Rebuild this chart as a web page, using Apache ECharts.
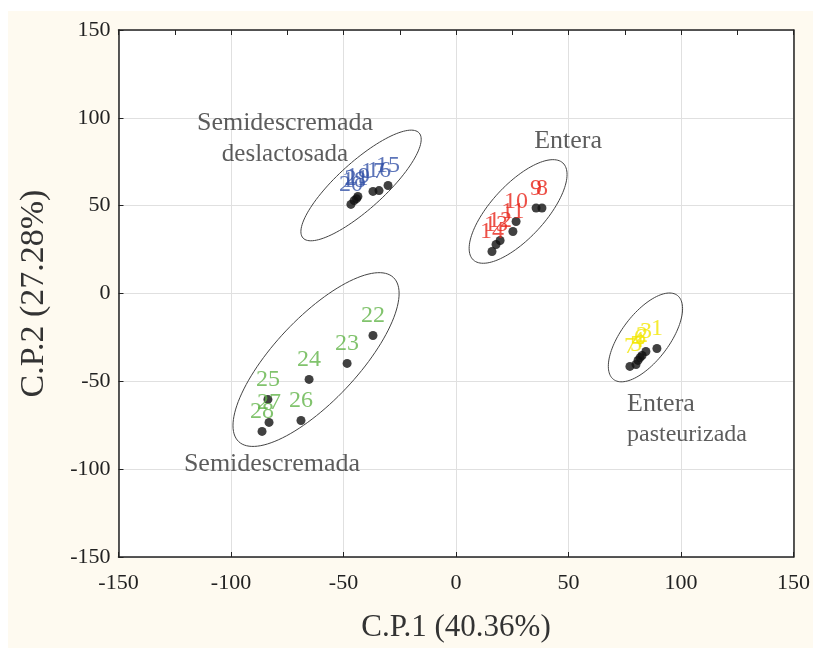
<!DOCTYPE html>
<html><head><meta charset="utf-8">
<script src="https://cdn.jsdelivr.net/npm/echarts@6/dist/echarts.min.js"></script>
<style>
html,body{margin:0;padding:0;background:#fff;}
#bg{position:absolute;left:8px;top:11px;width:805px;height:637px;background:#fefaf0;}
#c{position:absolute;left:0;top:0;width:813px;height:648px;}
</style></head>
<body><div id="bg"></div><div id="c"></div>
<script>
// Entera pasteurizada (yellow)
const pastLabels = ['1','3','2','4','6','5','7'];
const pastX = [89.3, 84.4, 82.7, 80.9, 81.8, 80.0, 77.3];
const pastY = [-31.3, -33.0, -35.3, -38.1, -36.5, -40.4, -41.5];
// Entera (red)
const entLabels = ['9','8','10','11','12','13','14'];
const entX = [35.6, 38.2, 26.7, 25.3, 19.6, 17.8, 16.0];
const entY = [48.7, 48.7, 41.0, 35.3, 30.2, 27.9, 23.9];
// Semidescremada deslactosada (blue)
const deslLabels = ['15','17','16','19','18','21','20'];
const deslX = [-30.2, -36.9, -34.2, -43.6, -45.3, -44.2, -46.7];
const deslY = [61.5, 58.1, 58.6, 55.2, 52.9, 54.0, 50.7];
// Semidescremada (green)
const semiLabels = ['22','23','24','25','26','27','28'];
const semiX = [-36.9, -48.4, -65.3, -83.6, -68.9, -83.1, -86.2];
const semiY = [-23.9, -39.8, -48.9, -60.3, -72.3, -73.4, -78.5];

// Ellipses: center x, center y, major half-vector (ux, uy), minor half-vector (vx, vy)
const ellipses = [
  [-42.2, 61.5, 25.8, 29.9, 7.0, -9.9],
  [27.6, 46.7, 19.9, 27.6, 8.8, -10.4],
  [84.2, -25.0, 14.2, 23.9, 8.4, -8.25],
  [-62.2, -37.6, 34.4, 46.7, 13.4, -16.3]
];

// Group names (first line / second line)
const groupLine1 = ['Semidescremada', 'Entera', 'Entera', 'Semidescremada'];
const groupLine2 = ['deslactosada', '', 'pasteurizada', ''];
const groupX = [-76, 49.8, 76, -81.8];
const groupY = [88.2, 86.5, -71.7, -97.0];
const groupAlign = ['center', 'center', 'left', 'center'];

const xName = 'C.P.1 (40.36%)';
const yName = 'C.P.2 (27.28%)';

const serif = '"Liberation Serif", "DejaVu Serif", serif';

function pts(xs, ys, labels) {
  return xs.map((x, i) => ({ value: [x, ys[i]], name: labels[i] }));
}
function scatter(xs, ys, labels, color) {
  return {
    type: 'scatter', symbolSize: 9, itemStyle: { color: '#111' },
    data: pts(xs, ys, labels),
    label: { show: true, position: 'top', distance: 3, formatter: p => p.name,
      color: color, fontFamily: serif, fontSize: 24 },
    z: 3
  };
}

const chart = echarts.init(document.getElementById('c'), null, { renderer: 'canvas' });
chart.setOption({
  backgroundColor: 'transparent',
  animation: false,
  grid: { left: 118.5, right: 19.5, top: 30, bottom: 91, show: true, backgroundColor: '#fff', borderWidth: 0 },
  xAxis: [{
    type: 'value', min: -150, max: 150, interval: 50, position: 'bottom',
    name: xName, nameLocation: 'middle', nameGap: 55,
    nameTextStyle: { fontFamily: serif, fontSize: 31, color: '#333' },
    axisLine: { show: true, onZero: false, lineStyle: { color: '#222', width: 1.5 } },
    axisTick: { show: true, inside: true, length: 5, lineStyle: { color: '#222' } },
    axisLabel: { fontFamily: serif, fontSize: 22, color: '#222', margin: 15 },
    splitLine: { show: true, lineStyle: { color: '#e0e0e0', width: 1 } }
  }, {
    type: 'value', min: -150, max: 150, interval: 25, position: 'top',
    axisLine: { show: true, onZero: false, lineStyle: { color: '#222', width: 1.5 } },
    axisTick: { show: true, inside: true, length: 5, lineStyle: { color: '#222' } },
    axisLabel: { show: false }, splitLine: { show: false }
  }],
  yAxis: [{
    type: 'value', min: -150, max: 150, interval: 50, position: 'left',
    name: yName, nameLocation: 'middle', nameGap: 67, nameRotate: 90,
    nameTextStyle: { fontFamily: serif, fontSize: 34, color: '#333' },
    axisLine: { show: true, onZero: false, lineStyle: { color: '#222', width: 1.5 } },
    axisTick: { show: true, inside: true, length: 5, lineStyle: { color: '#222' } },
    axisLabel: { fontFamily: serif, fontSize: 22, color: '#222', margin: 8 },
    splitLine: { show: true, lineStyle: { color: '#e0e0e0', width: 1 } }
  }, {
    type: 'value', min: -150, max: 150, interval: 50, position: 'right',
    axisLine: { show: true, onZero: false, lineStyle: { color: '#222', width: 1.5 } },
    axisTick: { show: false }, axisLabel: { show: false }, splitLine: { show: false }
  }],
  series: [
    {
      type: 'custom', silent: true, z: 2,
      data: ellipses,
      renderItem: function (params, api) {
        const cx = api.value(0), cy = api.value(1), ux = api.value(2), uy = api.value(3), vx = api.value(4), vy = api.value(5);
        const points = [];
        const n = 120;
        for (let k = 0; k <= n; k++) {
          const t = k / n * Math.PI * 2;
          points.push(api.coord([cx + ux * Math.cos(t) + vx * Math.sin(t), cy + uy * Math.cos(t) + vy * Math.sin(t)]));
        }
        return { type: 'polygon', shape: { points: points }, style: { fill: 'none', stroke: '#444', lineWidth: 1 } };
      },
      encode: { x: 0, y: 1 }
    },
    scatter(pastX, pastY, pastLabels, '#f2e600'),
    scatter(entX, entY, entLabels, '#e8261a'),
    scatter(deslX, deslY, deslLabels, '#3553a8'),
    scatter(semiX, semiY, semiLabels, '#62b449'),
    {
      type: 'scatter', symbolSize: 0, silent: true, z: 4,
      data: groupLine1.map((n, i) => ({ value: [groupX[i], groupY[i]], name: n,
        label: { align: groupAlign[i] } })),
      label: { show: true, position: 'inside',
        formatter: p => {
          const i = p.dataIndex;
          return groupLine2[i] ? '{a|' + groupLine1[i] + '}\n{' + (i === 2 ? 'c' : 'b') + '|' + groupLine2[i] + '}' : '{a|' + groupLine1[i] + '}';
        },
        rich: {
          a: { fontFamily: serif, fontSize: 26, color: '#333', lineHeight: 31 },
          b: { fontFamily: serif, fontSize: 25, color: '#333', lineHeight: 31 },
          c: { fontFamily: serif, fontSize: 24, color: '#333', lineHeight: 31 }
        }
      }
    }
  ]
});
</script></body></html>
